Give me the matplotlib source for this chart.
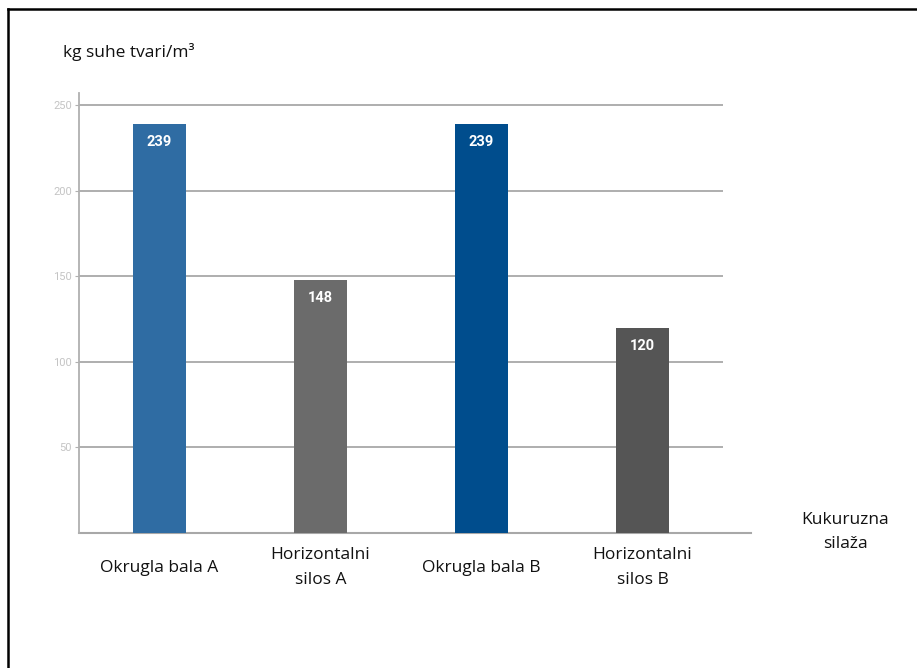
import matplotlib.pyplot as plt
from matplotlib.lines import Line2D

categories = ["Okrugla bala A", "Horizontalni\nsilos A", "Okrugla bala B", "Horizontalni\nsilos B"]
values = [239, 148, 239, 120]
colors = ["#2F6CA3", "#6B6B6B", "#004D8D", "#555555"]
yticks = [50, 100, 150, 200, 250]

plt.rcParams['font.family'] = ['Open Sans', 'DejaVu Sans']

fig = plt.figure(figsize=(9.17, 6.68), dpi=100)
ax = fig.add_axes([79 / 917, 1 - 533 / 668, 644 / 917, 440 / 668])

x = range(len(values))
bars = ax.bar(x, values, width=0.335, color=colors, zorder=3)

for b, v in zip(bars, values):
    ax.text(b.get_x() + b.get_width() / 2, v - 10.5, str(v), ha='center', va='center',
            color='white', fontsize=10.5, fontweight='bold', family='Roboto', zorder=4)

ax.set_xlim(-0.5, 3.5)
ax.set_ylim(0, 257)
ax.set_yticks(yticks)
ax.set_yticklabels([str(t) for t in yticks], color='#c4c4c4', fontsize=8, family='Roboto')
ax.tick_params(axis='y', length=3, color='#b0b0b0', pad=2)
ax.grid(axis='y', color='#a8a8a8', linewidth=1.3, zorder=1)

ax.set_xticks(list(x))
ax.set_xticklabels(categories, fontsize=12.5, color='#111111', linespacing=1.75)
ax.tick_params(axis='x', length=0, pad=25)
for lab in ax.get_xticklabels():
    lab.set_va('center')

for s in ['top', 'right', 'bottom']:
    ax.spines[s].set_visible(False)
ax.spines['left'].set_color('#b0b0b0')
ax.spines['left'].set_linewidth(1.3)

# baseline runs a bit past the plot area
ax.add_line(Line2D([0, 672 / 644], [0, 0], transform=ax.transAxes, color='#a8a8a8',
                   linewidth=1.5, clip_on=False, zorder=2))

fig.text(63 / 917, 1 - 52 / 668, "kg suhe tvari/m³", fontsize=12.5, va='center', ha='left', color='#111111')
fig.text(845 / 917, 1 - 532 / 668, "Kukuruzna\nsilaža", fontsize=12.5, va='center', ha='center',
         color='#111111', linespacing=1.75)

# frame of the pasted picture (top and left edges only)
fig.add_artist(Line2D([8 / 917, 1], [1 - 9 / 668, 1 - 9 / 668], color='black', linewidth=1.8))
fig.add_artist(Line2D([8 / 917, 8 / 917], [0, 1 - 9 / 668], color='black', linewidth=1.8))

fig.savefig("out.png", dpi=100)
